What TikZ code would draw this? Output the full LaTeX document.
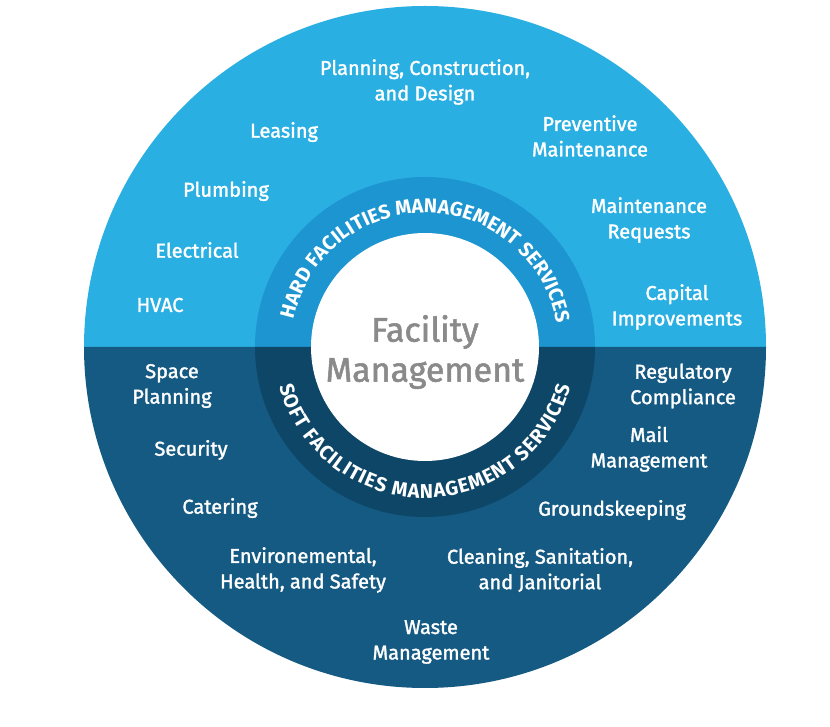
\documentclass[tikz,border=0pt]{standalone}
\usepackage{fontspec}
\setmainfont{Fira Sans}[UprightFeatures={FakeBold=1.6}, BoldFont=Fira Sans Bold]
\usepackage{tikz}
\usetikzlibrary{decorations.text}

\definecolor{hardout}{HTML}{2AAFE2}
\definecolor{hardring}{HTML}{1C95D0}
\definecolor{softout}{HTML}{155A82}
\definecolor{softring}{HTML}{0E4668}
\definecolor{hubgray}{HTML}{8A8A8A}
\newcommand{\ringfont}{\fontsize{20}{20}\selectfont\bfseries}

\begin{document}
\begin{tikzpicture}
[x=1pt,y=1pt]
\tikzset{
	service/.style = {text = white, align = center, inner sep = 0, font = \fontsize{20}{25.5}\selectfont},
	hub/.style = {text = hubgray, align = center, inner sep = 0, font = \fontsize{34}{40}\selectfont},
	ringtop/.style = {decorate, decoration = {text along path, text align = fit to path, text color = white,
		text = {|\ringfont|HARD FACILITIES MANAGEMENT SERVICES}}},
	ringbottom/.style = {decorate, decoration = {text along path, text align = fit to path, text color = white,
		text = {|\ringfont|SOFT FACILITIES MANAGEMENT SERVICES}}}
}
\useasboundingbox (0,0) rectangle (830,726);
\coordinate (c) at (425,379);

% discs
\fill [hardout] ([shift={(0:341)}]c) arc [start angle = 0, end angle = 180, radius = 341] -- cycle;
\fill [softout] ([shift={(180:341)}]c) arc [start angle = 180, end angle = 360, radius = 341] -- cycle;
\fill [hardring] ([shift={(0:170)}]c) arc [start angle = 0, end angle = 180, radius = 170] -- cycle;
\fill [softring] ([shift={(180:170)}]c) arc [start angle = 180, end angle = 360, radius = 170] -- cycle;
\fill [white] (c) circle [radius = 114];

\path [ringtop] ([shift={(168:134)}]c) arc [start angle = 168, end angle = 12, radius = 134];
\path [ringbottom] ([shift={(195:151)}]c) arc [start angle = 195, end angle = 345, radius = 151];

\node (hub) [hub] at (425,374) {Facility\\Management};

% hard services
\node (design) [service] at (425,644) {Planning, Construction,\\and Design};
\node (leasing) [service] at (284,594) {Leasing};
\node (preventive) [service] at (590,590) {Preventive\\Maintenance};
\node (plumbing) [service] at (226,535) {Plumbing};
\node (requests) [service] at (649,506) {Maintenance\\Requests};
\node (electrical) [service] at (197,476) {Electrical};
\node (hvac) [service] at (160,421) {HVAC};
\node (capital) [service] at (677,419) {Capital\\Improvements};

% soft services
\node (space) [service] at (172,340) {Space\\Planning};
\node (regulatory) [service] at (683,340) {Regulatory\\Compliance};
\node (security) [service] at (191,276) {Security};
\node (mail) [service] at (649,277) {Mail\\Management};
\node (catering) [service] at (220,218) {Catering};
\node (grounds) [service] at (612,216) {Groundskeeping};
\node (safety) [service] at (303,156) {Environemental,\\Health, and Safety};
\node (cleaning) [service] at (540,156) {Cleaning, Sanitation,\\and Janitorial};
\node (waste) [service] at (431,84) {Waste\\Management};

\end{tikzpicture}
\end{document}
